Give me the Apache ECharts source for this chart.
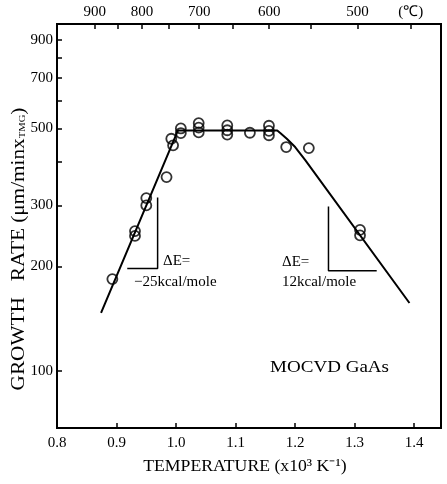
<!DOCTYPE html>
<html>
<head>
<meta charset="utf-8">
<script src="https://cdn.jsdelivr.net/npm/echarts@6/dist/echarts.min.js"></script>
<style>
html, body { margin: 0; padding: 0; background: #fff; }
#chart { width: 447px; height: 484px; }
</style>
</head>
<body>
<div id="chart"></div>
<script>
// growth rate vs 1000/T
const ratePoints = [
    [0.893, 184], [0.931, 245], [0.931, 253], [0.950, 300], [0.950, 315],
    [0.984, 362], [0.995, 447], [0.992, 467], [1.008, 485], [1.008, 500],
    [1.038, 487], [1.038, 503], [1.038, 518],
    [1.086, 480], [1.086, 494], [1.086, 510],
    [1.124, 486],
    [1.156, 478], [1.156, 492], [1.156, 509],
    [1.185, 442], [1.223, 439], [1.309, 246], [1.309, 255]
];
const fitLine = [
    [0.874, 147], [1.003, 493], [1.170, 493], [1.175, 485], [1.186, 467],
    [1.200, 442], [1.217, 405], [1.392, 157]
];
// activation energy slope markers
const slopeLow = [[0.918, 197.5], [0.969, 197.5], [0.969, 316]];
const slopeHigh = [[1.256, 298], [1.256, 194.5], [1.337, 194.5]];

const xTicks = [0.8, 0.9, 1.0, 1.1, 1.2, 1.3, 1.4];
const yTicks = [100, 200, 300, 400, 500, 600, 700, 800, 900];
const yLabels = [100, 200, 300, 500, 700, 900];
const celsiusTicks = [900, 850, 800, 750, 700, 650, 600, 550, 500, 450];
const celsiusLabels = [900, 800, 700, 600, 500, 450];

const FONT = 'Liberation Serif';
const toInvT = t => 1000 / (t + 273);

const myChart = echarts.init(document.getElementById('chart'));

const option = {
    backgroundColor: '#fff',
    animation: false,
    grid: {
        left: 57, right: 6, top: 24, bottom: 56,
        show: true, borderColor: '#000', borderWidth: 2
    },
    xAxis: [
        {
            type: 'value', position: 'bottom',
            min: 0.8, max: 1.445,
            axisLine: { lineStyle: { color: '#000', width: 2 } },
            axisTick: { inside: true, length: 5, customValues: xTicks, lineStyle: { color: '#000', width: 1.5 } },
            axisLabel: {
                customValues: xTicks, margin: 8,
                color: '#000', fontFamily: FONT, fontSize: 15,
                formatter: v => v.toFixed(1)
            },
            splitLine: { show: false }
        },
        {
            // celsius scale; the printed axis sits a few px right of 1000/(T+273)
            type: 'value', position: 'top',
            min: 0.789, max: 1.434,
            axisLine: { lineStyle: { color: '#000', width: 2 } },
            axisTick: { inside: true, length: 5, customValues: celsiusTicks.map(toInvT), lineStyle: { color: '#000', width: 1.5 } },
            axisLabel: {
                customValues: celsiusLabels.map(toInvT), margin: 4,
                color: '#000', fontFamily: FONT, fontSize: 15,
                formatter: v => {
                    const c = Math.round(1000 / v - 273);
                    return c === 450 ? '(℃)' : String(c);
                }
            },
            splitLine: { show: false }
        }
    ],
    yAxis: {
        type: 'log', logBase: 10,
        min: 68.5, max: 1000,
        axisLine: { lineStyle: { color: '#000', width: 2 } },
        axisTick: { inside: true, length: 5, customValues: yTicks, lineStyle: { color: '#000', width: 1.5 } },
        axisLabel: {
            customValues: yLabels, margin: 4,
            color: '#000', fontFamily: FONT, fontSize: 15
        },
        splitLine: { show: false }
    },
    series: [
        {
            type: 'line', data: fitLine, symbol: 'none',
            lineStyle: { color: '#000', width: 2 }, z: 2
        },
        {
            type: 'line', data: slopeLow, symbol: 'none',
            lineStyle: { color: '#000', width: 1.5 }
        },
        {
            type: 'line', data: slopeHigh, symbol: 'none',
            lineStyle: { color: '#000', width: 1.5 }
        },
        {
            type: 'scatter', data: ratePoints,
            symbol: 'circle', symbolSize: 10,
            itemStyle: { color: 'transparent', borderColor: '#000', borderWidth: 1.8 },
            z: 3
        }
    ],
    graphic: [
        { type: 'text', left: 163, top: 254, style: { text: 'ΔE=', font: '15px ' + FONT, fill: '#000' } },
        { type: 'text', left: 134, top: 275, style: { text: '−25kcal/mole', font: '15px ' + FONT, fill: '#000' } },
        { type: 'text', left: 282, top: 255, style: { text: 'ΔE=', font: '15px ' + FONT, fill: '#000' } },
        { type: 'text', left: 282, top: 275, style: { text: '12kcal/mole', font: '15px ' + FONT, fill: '#000' } },
        {
            type: 'text', x: 270, y: 368, scaleX: 1.12,
            style: { text: 'MOCVD GaAs', font: '17px ' + FONT, fill: '#000', verticalAlign: 'middle' }
        },
        {
            type: 'text', x: 245, y: 467, scaleX: 1.04,
            style: {
                text: 'TEMPERATURE (x10³ K⁻¹)', font: '17px ' + FONT, fill: '#000',
                align: 'center', verticalAlign: 'middle'
            }
        },
        {
            type: 'text', x: 19, y: 249, rotation: Math.PI / 2, scaleX: 1.18,
            style: {
                text: '{a|GROWTH   RATE (μm/minx}{s|TMG}{a|)}',
                align: 'center', verticalAlign: 'middle',
                rich: {
                    a: { fontFamily: FONT, fontSize: 18, fill: '#000' },
                    s: { fontFamily: FONT, fontSize: 9, fill: '#000', padding: [8, 0, 0, 0] }
                }
            }
        }
    ]
};

myChart.setOption(option);
</script>
</body>
</html>
